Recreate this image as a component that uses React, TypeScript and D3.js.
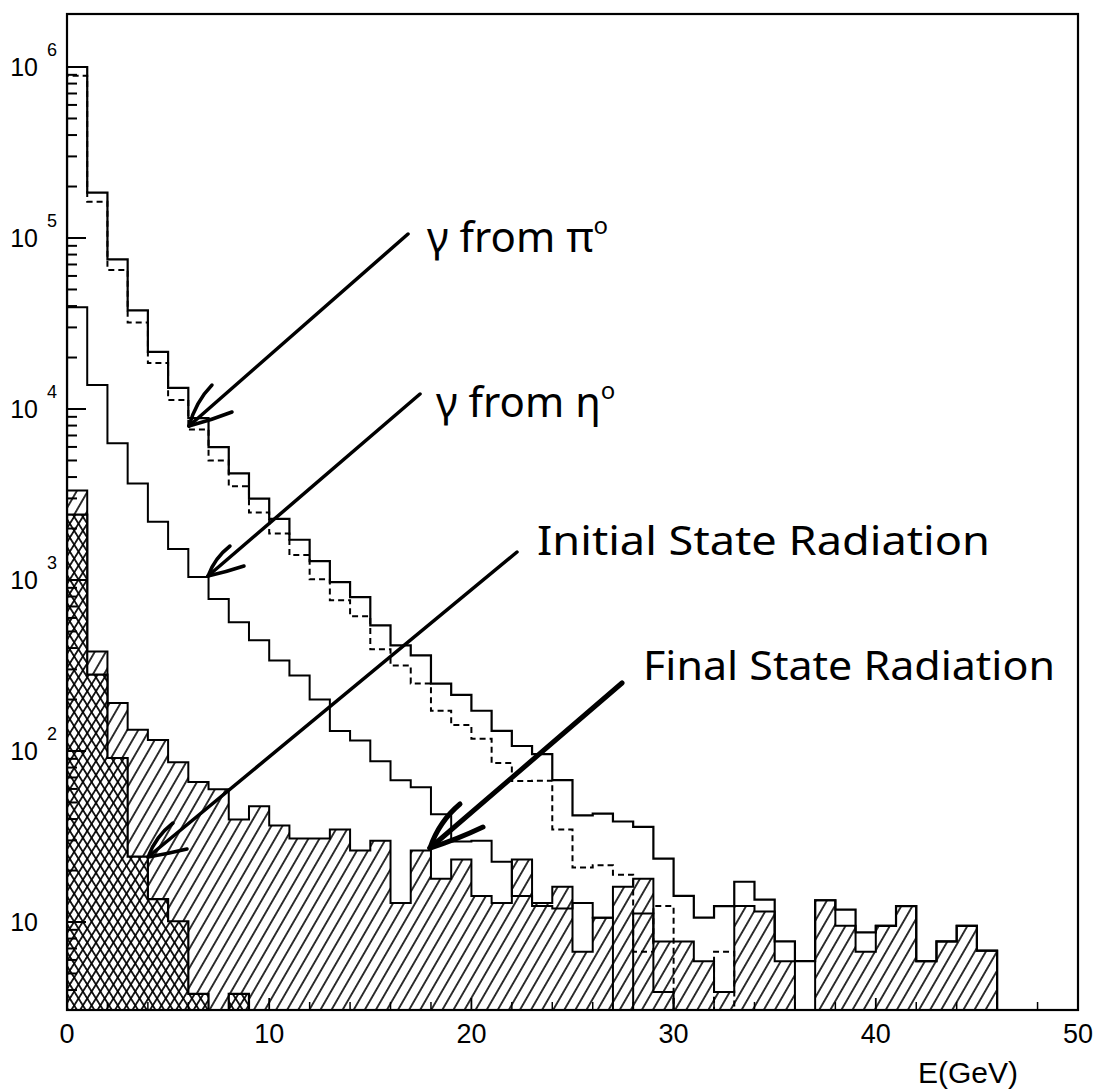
import React from "react";
import * as d3 from "d3";

// ---- data (bin width 1 GeV, bins start at 0 GeV) ----
const totalSolid = [1.0e6, 1.84e5, 7.5e4, 3.77e4, 2.16e4, 1.33e4, 8.85e3, 5.98e3, 4.2e3, 2.99e3, 2.28e3, 1.72e3, 1.29e3, 973, 794, 543, 415, 362, 248, 213, 172, 131, 107, 96, 67.5, 42, 43, 38.7, 36, 23.5, 14.2, 10.6, 12.4, 17.2, 13.5, 7.7, 5.9, 13.4, 11.8, 8.7, 9.5, 12.4, 5.9, 7.7, 9.5, 6.8];
const pi0Dashed = [8.9e5, 1.63e5, 6.5e4, 3.2e4, 1.86e4, 1.13e4, 7.6e3, 5.0e3, 3.53e3, 2.48e3, 1.87e3, 1.4e3, 1.01e3, 762, 614, 393, 316, 248, 172, 142, 118, 85, 66.7, 67, 34.8, 20.8, 21.5, 18.9, 6.7, 12.4, 0, 0, 6.7];
const etaSolid = [3.93e4, 1.38e4, 6.3e3, 3.67e3, 2.19e3, 1.52e3, 1.04e3, 773, 566, 444, 338, 276, 200, 131, 115, 87, 67.5, 61.4, 42.6, 29.6, 29.9, 22.5, 14.2, 12.4, 12, 12.9, 10.6, 0, 11.2, 3.9];
const fsrHatched = [3340, 382, 191, 133, 116, 86, 65.8, 59.7, 39.8, 47.5, 36.7, 30.8, 30.8, 34.8, 26.2, 29.9, 12.9, 26.2, 17.9, 23.2, 14.2, 12.9, 23.2, 12.9, 16.1, 6.7, 10.6, 16.1, 17.9, 7.7, 7.7, 5.9, 3.9, 12.4, 11.5, 5.9, 0, 13.4, 9.5, 6.7, 9.5, 12.4, 5.9, 7.7, 9.5, 6.8];
const isrCross = [2410, 280, 91, 24.1, 13.6, 10.1, 3.8, 0, 3.8];

const xTickLabels = [0, 10, 20, 30, 40, 50];
const yDecades = [1, 2, 3, 4, 5, 6];

// ---- layout ----
const W = 1097;
const H = 1089;
const left = 67;
const right = 1078;
const top = 14;
const bottom = 1010;
const decadePx = 171;
const y6 = 67;

const x = d3.scaleLinear().domain([0, 50]).range([left, right]);
const yMaxLog = 6 + (y6 - top) / decadePx;
const yMinLog = 6 - (bottom - y6) / decadePx;
const y = d3
  .scaleLog()
  .domain([Math.pow(10, yMinLog), Math.pow(10, yMaxLog)])
  .range([bottom, top])
  .clamp(true);
const floorV = Math.pow(10, yMinLog);
const yv = (v: number) => y(v > 0 ? v : floorV);

function stepPts(vals: number[]): [number, number][] {
  const pts: [number, number][] = [[0, 0]];
  vals.forEach((v, i) => pts.push([i, v]));
  pts.push([vals.length, vals[vals.length - 1]]);
  pts.push([vals.length, 0]);
  return pts;
}

const lineGen = d3
  .line<[number, number]>()
  .x((d) => x(d[0]))
  .y((d) => yv(d[1]))
  .curve(d3.curveStepAfter);

const areaGen = d3
  .area<[number, number]>()
  .x((d) => x(d[0]))
  .y0(bottom)
  .y1((d) => yv(d[1]))
  .curve(d3.curveStepAfter);

function areaPts(vals: number[]): [number, number][] {
  const pts: [number, number][] = vals.map((v, i) => [i, v] as [number, number]);
  pts.push([vals.length, vals[vals.length - 1]]);
  return pts;
}

const axisFont = "'Liberation Sans', Arial, sans-serif";
const handFont = "'Noto Sans', 'DejaVu Sans', sans-serif";

function Arrow({ x1, y1, x2, y2, h1, h2, w }: { x1: number; y1: number; x2: number; y2: number; h1: [number, number]; h2: [number, number]; w: number }) {
  return (
    <g stroke="#000" strokeWidth={w} strokeLinecap="round" fill="none">
      <line x1={x1} y1={y1} x2={x2} y2={y2} />
      <path d={`M${x2},${y2} Q${x2 + h1[0] * 0.3},${y2 + h1[1] * 0.6} ${x2 + h1[0]},${y2 + h1[1]}`} />
      <path d={`M${x2},${y2} Q${x2 + h2[0] * 0.5},${y2 + h2[1] * 0.4} ${x2 + h2[0]},${y2 + h2[1]}`} />
    </g>
  );
}

export default function App() {
  const minorTicks: number[] = [];
  for (let k = 0; k <= 6; k++) {
    for (let m = 2; m <= 9; m++) {
      const v = m * Math.pow(10, k);
      const py = yv(v);
      if (v > floorV && py > top + 3 && py < bottom - 1) minorTicks.push(v);
    }
  }
  const xMinor = d3.range(2, 50, 2).filter((t) => t % 10 !== 0);

  return (
    <div style={{ position: "absolute", left: 0, top: 0 }}>
      <svg width={W} height={H} style={{ display: "block", background: "#fff" }}>
        <defs>
          <pattern id="fsr" patternUnits="userSpaceOnUse" width={9.6} height={20} patternTransform="rotate(30)">
            <line x1={4.8} y1={0} x2={4.8} y2={20} stroke="#000" strokeWidth={1.6} />
          </pattern>
          <pattern id="crossA" patternUnits="userSpaceOnUse" width={7.4} height={20} patternTransform="rotate(32)">
            <line x1={3.7} y1={0} x2={3.7} y2={20} stroke="#000" strokeWidth={1.7} />
          </pattern>
          <pattern id="crossB" patternUnits="userSpaceOnUse" width={7.4} height={20} patternTransform="rotate(-32)">
            <line x1={3.7} y1={0} x2={3.7} y2={20} stroke="#000" strokeWidth={1.7} />
          </pattern>
          <clipPath id="plotClip">
            <rect x={left} y={top} width={right - left} height={bottom - top} />
          </clipPath>
        </defs>

        <g clipPath="url(#plotClip)">
          {/* Final state radiation: single hatch */}
          <path d={areaGen(areaPts(fsrHatched)) || ""} fill="url(#fsr)" />
          <path d={lineGen(stepPts(fsrHatched)) || ""} fill="none" stroke="#000" strokeWidth={2} />
          {/* Initial state radiation: cross hatch */}
          <path d={areaGen(areaPts(isrCross)) || ""} fill="#fff" />
          <path d={areaGen(areaPts(isrCross)) || ""} fill="url(#crossA)" />
          <path d={areaGen(areaPts(isrCross)) || ""} fill="url(#crossB)" />
          <path d={lineGen(stepPts(isrCross)) || ""} fill="none" stroke="#000" strokeWidth={2.2} />
          {/* eta */}
          <path d={lineGen(stepPts(etaSolid)) || ""} fill="none" stroke="#000" strokeWidth={2} />
          {/* pi0 dashed */}
          <path d={lineGen(stepPts(pi0Dashed)) || ""} fill="none" stroke="#000" strokeWidth={2} strokeDasharray="6,4" />
          {/* total */}
          <path d={lineGen(stepPts(totalSolid)) || ""} fill="none" stroke="#000" strokeWidth={2.2} />
        </g>

        {/* frame */}
        <rect x={left} y={top} width={right - left} height={bottom - top} fill="none" stroke="#000" strokeWidth={2.2} />

        {/* y ticks */}
        {yDecades.map((k) => (
          <line key={"yM" + k} x1={left} x2={left + 19} y1={yv(Math.pow(10, k))} y2={yv(Math.pow(10, k))} stroke="#000" strokeWidth={2} />
        ))}
        {minorTicks.map((v, i) => (
          <line key={"ym" + i} x1={left} x2={left + 10} y1={yv(v)} y2={yv(v)} stroke="#000" strokeWidth={2} />
        ))}
        {yDecades.map((k) => {
          const ty = yv(Math.pow(10, k));
          return (
            <g key={"yl" + k} fontFamily={axisFont} fill="#000">
              <text x={38} y={ty + 9} textAnchor="end" fontSize={25}>10</text>
              {k > 1 && (
                <text x={47} y={ty - 11} fontSize={18}>{k}</text>
              )}
            </g>
          );
        })}

        {/* x ticks */}
        {xTickLabels.map((t) => (
          <line key={"xM" + t} x1={x(t)} x2={x(t)} y1={bottom} y2={bottom - 12} stroke="#000" strokeWidth={1.8} />
        ))}
        {xMinor.map((t) => (
          <line key={"xm" + t} x1={x(t)} x2={x(t)} y1={bottom} y2={bottom - 8} stroke="#000" strokeWidth={1.5} />
        ))}
        {xTickLabels.map((t) => (
          <text key={"xl" + t} x={x(t)} y={1043} textAnchor="middle" fontSize={27} fontFamily={axisFont}>
            {t}
          </text>
        ))}
        <text x={918} y={1083} fontSize={30} fontFamily={axisFont}>E(GeV)</text>

        {/* annotations */}
        <g fontFamily={handFont} fill="#000">
          <text x={427} y={252} fontSize={42}>
            γ from π<tspan dy={-18} fontSize={24}>o</tspan>
          </text>
          <text x={436} y={417} fontSize={42}>
            γ from η<tspan dy={-18} fontSize={24}>o</tspan>
          </text>
          <text x={537} y={555} fontSize={40} textLength={453} lengthAdjust="spacingAndGlyphs">Initial State Radiation</text>
          <text x={643} y={680} fontSize={40} textLength={412} lengthAdjust="spacingAndGlyphs">Final State Radiation</text>
        </g>

        <Arrow x1={408} y1={234} x2={189} y2={426} h1={[23, -41]} h2={[43, -14]} w={3.5} />
        <Arrow x1={420} y1={394} x2={208} y2={576} h1={[22, -30]} h2={[36, -10]} w={3.5} />
        <Arrow x1={517} y1={552} x2={148} y2={857} h1={[25, -34]} h2={[39, -8]} w={3.5} />
        <Arrow x1={622} y1={683} x2={430} y2={848} h1={[30, -44]} h2={[53, -21]} w={5} />
      </svg>
    </div>
  );
}
